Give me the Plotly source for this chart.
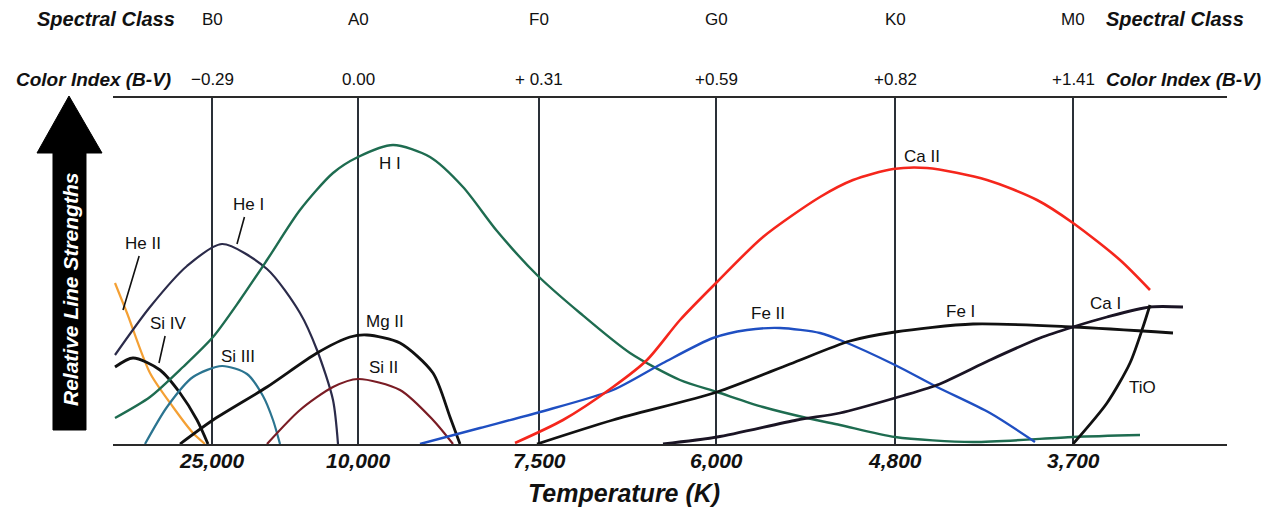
import plotly.graph_objects as go

# ---------------- data ----------------
# horizontal position along the spectral sequence (chart units), vertical = relative line strength
CLASSES = ["B0", "A0", "F0", "G0", "K0", "M0"]
CLASS_X = [212, 358, 539, 716, 895, 1073]
COLOR_INDEX = ["\u22120.29", "0.00", "+ 0.31", "+0.59", "+0.82", "+1.41"]
TEMPS = ["25,000", "10,000", "7,500", "6,000", "4,800", "3,700"]

he2_x = [115, 127, 150, 173, 193, 205]
he2_y = [161, 131, 71, 37, 11, 0]

he1_x = [115, 150, 187, 222, 267, 300, 317, 333, 338]
he1_y = [89, 137, 178, 200, 175, 131, 94, 44, 0]

si4_x = [115, 133, 160, 180, 197, 208]
si4_y = [77, 86, 74, 51, 24, 0]

h1_x = [115, 150, 183, 213, 240, 267, 300, 333, 358, 393, 430, 463, 497, 537, 580, 630, 680, 717, 763, 807, 840, 895, 973, 1073, 1140]
h1_y = [26, 47, 77, 107, 144, 184, 234, 271, 287, 299, 287, 257, 213, 169, 131, 91, 64, 52, 37, 26, 19, 7, 2, 7, 9]

si3_x = [145, 167, 193, 222, 247, 263, 273, 280]
si3_y = [0, 37, 67, 78, 70, 48, 24, 0]

mg2_x = [180, 213, 267, 317, 350, 367, 400, 433, 450, 460]
mg2_y = [0, 24, 57, 91, 107, 109, 101, 71, 27, 0]

si2_x = [267, 300, 333, 358, 400, 433, 453]
si2_y = [0, 34, 57, 65, 54, 24, 0]

fe2_x = [420, 480, 540, 613, 663, 713, 747, 780, 820, 840, 895, 937, 990, 1035]
fe2_y = [0, 16, 32, 54, 81, 106, 114, 116, 111, 104, 79, 57, 31, 2]

ca2_x = [515, 563, 613, 647, 680, 717, 763, 820, 853, 893, 927, 987, 1037, 1073, 1120, 1150]
ca2_y = [1, 24, 57, 84, 124, 162, 207, 247, 264, 275, 276, 264, 244, 221, 184, 154]

fe1_x = [537, 613, 717, 790, 850, 895, 973, 1073, 1173]
fe1_y = [0, 24, 52, 80, 103, 112, 120, 117, 111]

ca1_x = [663, 717, 797, 840, 895, 937, 990, 1040, 1073, 1107, 1150, 1183]
ca1_y = [0, 7, 24, 31, 46, 59, 84, 106, 117, 127, 137, 137]

tio_x = [1073, 1107, 1130, 1143, 1150]
tio_y = [0, 41, 81, 117, 139]

SERIES = [
    ("He II", he2_x, he2_y, "#f4a034", 2.2),
    ("He I", he1_x, he1_y, "#2b2b4a", 2.2),
    ("Si IV", si4_x, si4_y, "#111111", 2.8),
    ("H I", h1_x, h1_y, "#1e6c50", 2.4),
    ("Si III", si3_x, si3_y, "#2b7490", 2.2),
    ("Mg II", mg2_x, mg2_y, "#111111", 2.8),
    ("Si II", si2_x, si2_y, "#7a1c24", 2.2),
    ("Fe II", fe2_x, fe2_y, "#1f4fc2", 2.4),
    ("Ca II", ca2_x, ca2_y, "#f5261c", 2.6),
    ("Fe I", fe1_x, fe1_y, "#111111", 2.8),
    ("Ca I", ca1_x, ca1_y, "#1a1424", 2.8),
    ("TiO", tio_x, tio_y, "#111111", 2.8),
]

# labels: name, text position, optional leader-line end point
LABELS = ["He II", "He I", "H I", "Si IV", "Si III", "Mg II", "Si II", "Fe II", "Ca II", "Fe I", "Ca I", "TiO"]
LABEL_X = [143, 248, 390, 168, 238, 385, 383, 768, 922, 960, 1105, 1142]
LABEL_Y = [201, 240, 281, 121, 88, 123, 77, 131, 288, 133, 141, 57]
LEADER_X = [123, 237, None, 159, None, None, None, None, None, None, None, None]
LEADER_Y = [134, 200, None, 81, None, None, None, None, None, None, None, None]

# ---------------- layout geometry ----------------
# The page body has an 8px margin, so the figure is offset by OFF in the screenshot.
OFF = 8
W, H = 1281 - OFF, 508 - OFF
L, R, T, B = 113, 1227, 98, 444          # target screen coordinates of the plot area
X0, X1 = 113, 1227
Y0, Y1 = 0, 346


def px2paper(px):
    return (px - L) / (R - L)


def py2paper(py):
    return (B - py) / (B - T)


FONT = "Liberation Sans, Arial, sans-serif"
TITLE_FONT = dict(family=FONT, size=20, color="#111111", weight="bold", style="italic")
LBL_FONT = dict(family=FONT, size=17, color="#111111")

fig = go.Figure()
for name, xs, ys, col, w in SERIES:
    fig.add_trace(go.Scatter(
        x=xs, y=ys, mode="lines", name=name,
        line=dict(color=col, width=w, shape="spline", smoothing=0.75),
        hoverinfo="name", showlegend=False,
    ))

C = dict(xanchor="center", yanchor="middle")
annotations = []
# species labels
for name, lx, ly, ex, ey in zip(LABELS, LABEL_X, LABEL_Y, LEADER_X, LEADER_Y):
    if ex is None:
        annotations.append(dict(x=lx, y=ly, xref="x", yref="y", text=name, showarrow=False,
                                font=LBL_FONT, **C))
    else:
        annotations.append(dict(x=ex, y=ey, xref="x", yref="y", ax=lx, ay=ly, axref="x", ayref="y",
                                text=name, showarrow=True, arrowhead=0, arrowwidth=1.6,
                                arrowcolor="#111111", standoff=0, startstandoff=2,
                                font=LBL_FONT, **C))

# top labels
for cx, cl, ci in zip(CLASS_X, CLASSES, COLOR_INDEX):
    annotations.append(dict(x=cx, y=py2paper(19), xref="x", yref="paper", text=cl, showarrow=False,
                            font=LBL_FONT, **C))
    annotations.append(dict(x=cx, y=py2paper(80), xref="x", yref="paper", text=ci, showarrow=False,
                            font=LBL_FONT, **C))
# bottom temperatures
for cx, t in zip(CLASS_X, TEMPS):
    annotations.append(dict(x=cx, y=py2paper(461), xref="x", yref="paper", text=t, showarrow=False,
                            font=dict(family=FONT, size=21, color="#111111", weight="bold", style="italic"),
                            **C))

annotations += [
    dict(x=px2paper(177), y=py2paper(19), xref="paper", yref="paper", xanchor="right", yanchor="middle",
         text="Spectral Class", showarrow=False, font=TITLE_FONT),
    dict(x=px2paper(1104), y=py2paper(19), xref="paper", yref="paper", xanchor="left", yanchor="middle",
         text="Spectral Class", showarrow=False, font=TITLE_FONT),
    dict(x=px2paper(173), y=py2paper(80), xref="paper", yref="paper", xanchor="right", yanchor="middle",
         text="Color Index (B-V)", showarrow=False, font=dict(TITLE_FONT, size=19)),
    dict(x=px2paper(1104), y=py2paper(80), xref="paper", yref="paper", xanchor="left", yanchor="middle",
         text="Color Index (B-V)", showarrow=False, font=dict(TITLE_FONT, size=19)),
    dict(x=px2paper(624), y=py2paper(493), xref="paper", yref="paper",
         text="Temperature (K)", showarrow=False, font=dict(TITLE_FONT, size=25), **C),
    dict(x=px2paper(70), y=py2paper(290), xref="paper", yref="paper", textangle=-90,
         text="Relative Line Strengths", showarrow=False,
         font=dict(family=FONT, size=21, color="#ffffff", weight="bold", style="italic"), **C),
]

# big up-arrow for the y axis
arrow_pts = [(53, 430), (53, 153), (37, 153), (69, 96), (102, 153), (86, 153), (86, 430)]
path = "M " + " L ".join(f"{px2paper(a):.5f},{py2paper(b):.5f}" for a, b in arrow_pts) + " Z"
shapes = [dict(type="path", path=path, xref="paper", yref="paper",
               fillcolor="#000000", line=dict(color="#000000", width=1), layer="below")]

fig.update_layout(
    width=W, height=H,
    margin=dict(l=L - OFF, r=1281 - R, t=T - OFF, b=508 - B, pad=0),
    paper_bgcolor="#ffffff", plot_bgcolor="#ffffff",
    xaxis=dict(range=[X0, X1], tickvals=CLASS_X, showticklabels=False, ticks="",
               showgrid=True, gridcolor="#2a3038", gridwidth=1.6, zeroline=False,
               showline=True, mirror=True, linecolor="#2a2a2a", linewidth=2, automargin=False,
               fixedrange=True),
    yaxis=dict(range=[Y0, Y1], showticklabels=False, ticks="", showgrid=False, zeroline=False,
               showline=False, automargin=False, fixedrange=True),
    annotations=annotations, shapes=shapes, showlegend=False,
)

fig.write_html("out.html")
